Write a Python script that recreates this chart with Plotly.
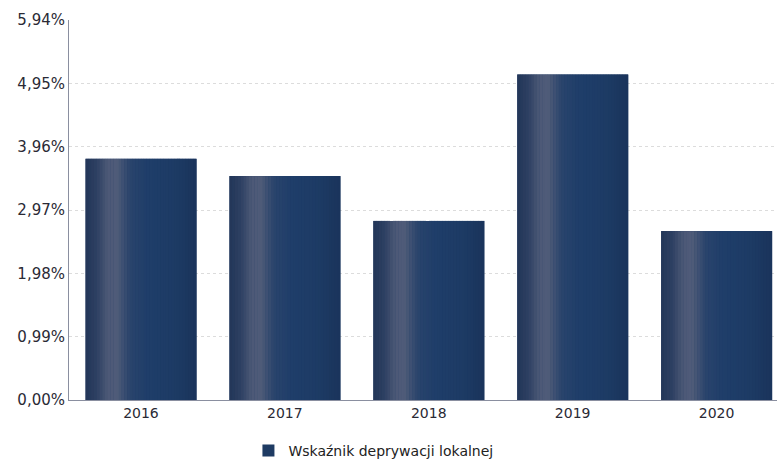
import plotly.graph_objects as go

# data
years = ['2016', '2017', '2018', '2019', '2020']
values = [3.77, 3.50, 2.80, 5.09, 2.64]
tick_vals = [0, 0.99, 1.98, 2.97, 3.96, 4.95, 5.94]
tick_text = ['0,00%', '0,99%', '1,98%', '2,97%', '3,96%', '4,95%', '5,94%']
series_name = 'Wskaźnik deprywacji lokalnej'

bar_w = 0.77
base_color = '#1e3b63'

# shading profile across the bar (position 0..1 -> colour), fakes the cylinder look
shade = [(0.0, (0x22, 0x36, 0x58)), (0.10, (0x2e, 0x40, 0x62)), (0.20, (0x4c, 0x59, 0x77)),
         (0.28, (0x50, 0x5c, 0x79)), (0.40, (0x2a, 0x44, 0x6c)), (0.55, (0x1f, 0x3e, 0x6a)),
         (0.80, (0x1d, 0x3b, 0x65)), (1.0, (0x1a, 0x34, 0x5b))]


def shade_at(t):
    for (p0, c0), (p1, c1) in zip(shade, shade[1:]):
        if p0 <= t <= p1:
            f = (t - p0) / (p1 - p0)
            return 'rgb(%d,%d,%d)' % tuple(round(a + (b - a) * f) for a, b in zip(c0, c1))
    return 'rgb(%d,%d,%d)' % shade[-1][1]


fig = go.Figure()

fig.add_trace(go.Bar(
    x=years, y=values, width=bar_w,
    name=series_name,
    marker=dict(color=base_color, line=dict(width=0)),
))

n = 40
sw = bar_w / n
for i in range(n):
    fig.add_trace(go.Bar(
        x=years, y=values, width=sw * 1.1,
        offset=-bar_w / 2 + i * sw,
        marker=dict(color=shade_at((i + 0.5) / n), line=dict(width=0)),
        showlegend=False, hoverinfo='skip',
    ))

fig.update_layout(
    width=777, height=467,
    margin=dict(l=69, r=0, t=20, b=60),
    paper_bgcolor='white', plot_bgcolor='white',
    barmode='overlay',
    font=dict(family='DejaVu Sans', size=14, color='#2a2a35'),
    showlegend=True,
    legend=dict(orientation='h', x=0.43, xanchor='center', y=-0.135, yanchor='middle',
                font=dict(size=14, color='#222222')),
)

fig.update_xaxes(
    range=[-0.5, 4.42],
    showline=True, linecolor='#8a8fa0', linewidth=1,
    ticks='', showgrid=False, automargin=False,
    tickfont=dict(size=14),
)
fig.update_yaxes(
    range=[0, 5.94],
    tickvals=tick_vals, ticktext=tick_text,
    showline=True, linecolor='#8a8fa0', linewidth=1,
    showgrid=True, gridcolor='#dcdcdc', griddash='dot',
    zeroline=False, ticks='', ticklen=0, automargin=False,
    tickfont=dict(size=15),
)

# drop the default 8px page margin so the figure fills the window exactly
fig.write_html("out.html", config={'displayModeBar': False},
               post_script="document.body.style.margin='0px';")
